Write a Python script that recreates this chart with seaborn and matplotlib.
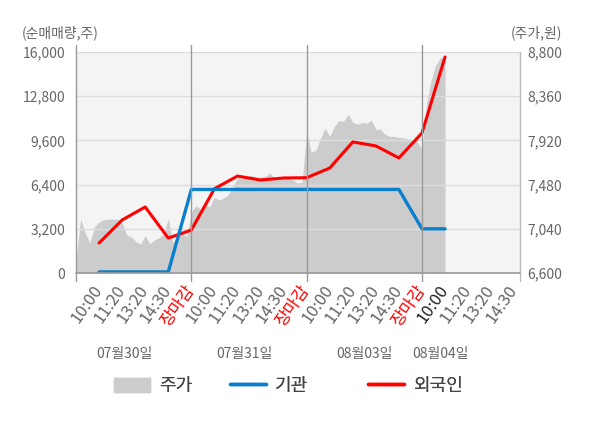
import matplotlib.pyplot as plt
import matplotlib.ticker as mticker
import numpy as np
import seaborn as sns
from matplotlib.lines import Line2D
from matplotlib.patches import Patch

# x axis: five slots per trading day, the last day only four
tick_labels = ["10:00", "11:20", "13:20", "14:30", "장마감"] * 3 + ["10:00", "11:20", "13:20", "14:30"]
day_labels = ["07월30일", "07월31일", "08월03일", "08월04일"]
day_label_pos = [2.1, 7.3, 12.5, 15.8]

# net buying (shares) at the first 16 slots
institution = [80, 80, 80, 80, 6050, 6050, 6050, 6050, 6050, 6050, 6050, 6050, 6050, 6050, 3200, 3200]
foreign = [2170, 3840, 4780, 2530, 3110, 6100, 7020, 6730, 6880, 6900, 7600, 9490, 9200, 8330, 10140, 15640]

# share price (won), sampled evenly from the first open to the last print
price = [
    6730, 7137, 6998, 6900, 7060, 7107, 7130, 7137, 7137, 7137,
    7100, 6978, 6960, 6910, 6890, 6970, 6890, 6930, 6950, 6990,
    7140, 6900, 6970, 7020, 6960, 7207, 7270, 7237, 7280, 7260,
    7356, 7326, 7346, 7380, 7456, 7545, 7545, 7560, 7570, 7555,
    7555, 7560, 7595, 7545, 7535, 7555, 7540, 7525, 7495, 7505,
    8000, 7804, 7820, 7943, 8040, 7960, 8060, 8120, 8110, 8180,
    8102, 8080, 8100, 8090, 8120, 8030, 8030, 7980, 7960, 7960,
    7950, 7945, 7935, 7925, 7910, 7830, 8292, 8520, 8670, 8745,
    8740,
]

BLUE = "#0a80cc"
RED = "#ff0000"
AREA = "#cccccc"
TXT = "#666666"
LINE = "#999999"

sns.set_theme(style="white")
plt.rcParams["font.family"] = ["Noto Sans CJK KR", "DejaVu Sans"]

fig = plt.figure(figsize=(6, 4.28), dpi=100)
ax = fig.add_axes([0.1267, 0.3621, 0.74, 0.5164])
ax2 = ax.twinx()
ax.set_zorder(ax2.get_zorder() + 1)
ax.patch.set_visible(False)
ax2.patch.set_visible(True)
ax2.set_facecolor("#f4f4f4")

# price area on the right axis
slots = np.arange(1, len(foreign) + 1)
price_x = np.linspace(0, len(foreign), len(price))
ax2.fill_between(price_x, price, 6600, color=AREA, lw=0)

# net buying lines on the left axis
sns.lineplot(x=slots, y=foreign, ax=ax, color=RED, lw=2.2)
sns.lineplot(x=slots, y=institution, ax=ax, color=BLUE, lw=2.4)

n_slots = len(tick_labels)
ax.set_xlim(0, n_slots + 0.25)
ax.set_ylim(0, 16000)
ax2.set_ylim(6600, 8800)
ax.set_yticks(np.linspace(0, 16000, 6))
ax2.set_yticks(np.linspace(6600, 8800, 6))
fmt = mticker.StrMethodFormatter("{x:,.0f}")
ax.yaxis.set_major_formatter(fmt)
ax2.yaxis.set_major_formatter(fmt)

ax.yaxis.grid(True, color="#dcdcdc", lw=1)
ax.xaxis.grid(False)
ax2.grid(False)
for a in (ax, ax2):
    for s in a.spines.values():
        s.set_visible(False)

ax.tick_params(axis="y", length=0, pad=8, labelsize=10, colors=TXT)
ax2.tick_params(axis="y", length=0, pad=5, labelsize=10, colors=TXT)

ax.set_xticks(np.arange(1, n_slots + 1))
ax.set_xticklabels(tick_labels, rotation=55, ha="right", va="center",
                   rotation_mode="anchor", fontsize=12)
ax.tick_params(axis="x", length=0, pad=10)
for i, lab in enumerate(ax.get_xticklabels()):
    if lab.get_text() == "장마감":
        lab.set_color(RED)
    elif i == len(foreign) - 1:
        lab.set_color("#222222")
    else:
        lab.set_color(TXT)

# frame and day separators
for xv in [0, 5, 10, 15]:
    ax.axvline(xv, ymin=-0.035, ymax=1.032, color=LINE, lw=1, clip_on=False)
ax.axvline(n_slots + 0.25, ymin=-0.035, ymax=1.0, color="#bbbbbb", lw=1, clip_on=False)
ax.axhline(0, color=LINE, lw=1.2, clip_on=False)

for pos, lab in zip(day_label_pos, day_labels):
    ax.text(pos, -0.367, lab, transform=ax.get_xaxis_transform(),
            ha="center", va="center", fontsize=10, color=TXT)

fig.text(22 / 600, 1 - 33 / 428, "(순매매량,주)", ha="left", va="center", fontsize=10, color=TXT)
fig.text(562 / 600, 1 - 33 / 428, "(주가,원)", ha="right", va="center", fontsize=10, color=TXT)

# legend: three entries, each placed at its own left edge
legend_items = [
    (Patch(color=AREA), "주가", 114),
    (Line2D([], [], color=BLUE, lw=2.5), "기관", 230),
    (Line2D([], [], color=RED, lw=2.5), "외국인", 368),
]
for handle, label, left_px in legend_items:
    leg = fig.legend([handle], [label], loc="center left", bbox_to_anchor=(left_px / 600, 1 - 386 / 428),
                     frameon=False, fontsize=13, handlelength=2.0, handleheight=0.85,
                     handletextpad=0.5, borderpad=0, borderaxespad=0, labelcolor="#444444")
    fig.add_artist(leg)

fig.savefig("out.png", dpi=100)
plt.close(fig)
